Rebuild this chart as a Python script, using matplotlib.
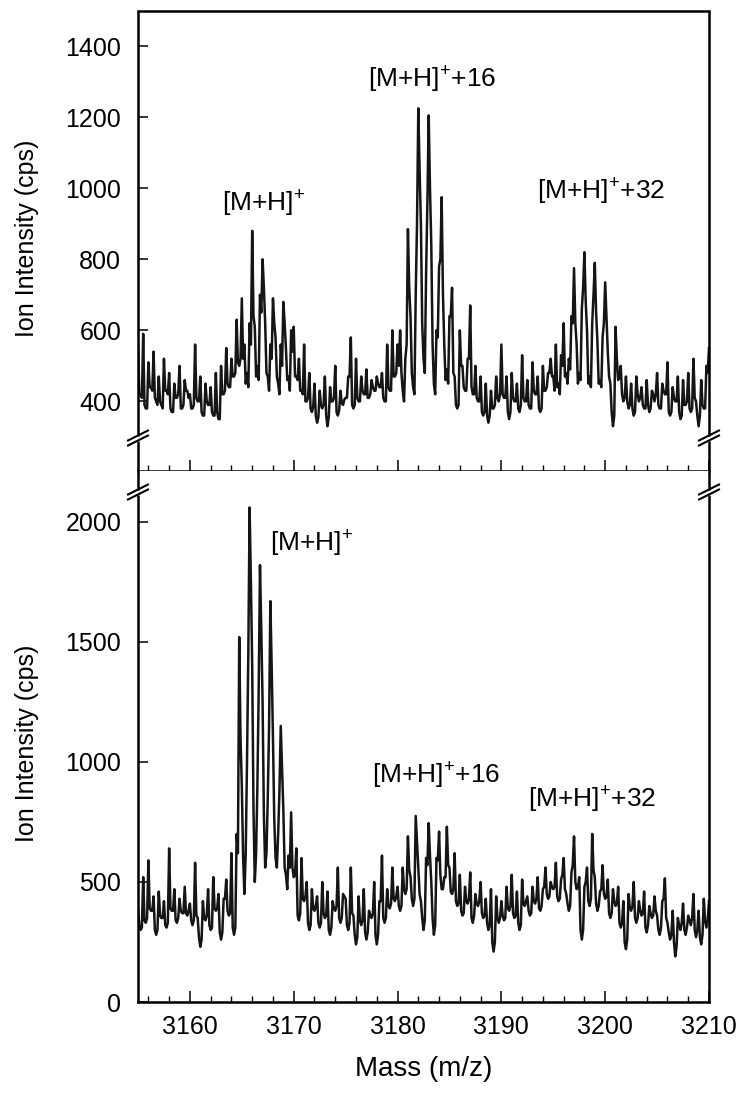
import matplotlib.pyplot as plt
import numpy as np
from matplotlib.lines import Line2D
from matplotlib.ticker import MultipleLocator

plt.rcParams['font.family'] = ['Liberation Sans', 'DejaVu Sans']
plt.rcParams['mathtext.fontset'] = 'custom'
plt.rcParams['mathtext.rm'] = 'Liberation Sans'
plt.rcParams['mathtext.it'] = 'Liberation Sans'

# spectra read every 0.25 m/z from 3155, plus the readings half way between them
mass_start = 3155.0
mass_step = 0.25

# upper spectrum (cps), 5 m/z per row
top_counts = [
    560, 420, 590, 380, 510, 440, 540, 400, 470, 390, 520, 430, 480, 370, 450, 410, 500, 380, 460, 430,
    420, 380, 560, 400, 470, 360, 450, 390, 440, 360, 480, 350, 500, 420, 550, 440, 520, 470, 630, 500,
    690, 560, 480, 620, 880, 610, 500, 700, 800, 620, 470, 560, 690, 580, 450, 560, 680, 550, 470, 600,
    610, 470, 520, 430, 560, 400, 480, 370, 450, 340, 430, 380, 470, 330, 440, 400, 500, 360, 430, 390,
    410, 470, 580, 380, 520, 400, 470, 420, 490, 410, 460, 430, 470, 440, 480, 400, 560, 430, 600, 470,
    560, 600, 430, 520, 885, 640, 440, 700, 1225, 900, 520, 760, 1205, 840, 450, 600, 780, 975, 560, 490,
    640, 720, 470, 380, 600, 500, 430, 520, 670, 420, 500, 400, 470, 360, 450, 340, 430, 380, 470, 400,
    560, 410, 470, 350, 480, 400, 450, 370, 530, 400, 460, 380, 510, 420, 470, 370, 500, 430, 480, 520,
    470, 560, 450, 530, 620, 480, 520, 640, 775, 560, 480, 660, 820, 600, 470, 620, 790, 570, 460, 580,
    735, 540, 450, 330, 610, 460, 500, 400, 470, 380, 450, 360, 470, 400, 440, 380, 460, 370, 430, 400,
    480, 380, 450, 420, 510, 360, 440, 400, 470, 350, 460, 390, 480, 370, 520, 400, 330, 460, 380, 500, 550,
]
top_between = [
    420, 410, 390, 380, 440, 430, 410, 390, 400, 380, 430, 420, 380, 370, 410, 420, 380, 390, 430, 410,
    380, 390, 410, 400, 370, 360, 400, 390, 370, 360, 370, 350, 420, 430, 450, 440, 470, 480, 510, 520,
    520, 450, 440, 560, 640, 470, 460, 650, 720, 480, 430, 520, 620, 470, 420, 500, 620, 460, 430, 540,
    470, 460, 430, 420, 400, 410, 380, 385, 360, 355, 390, 390, 360, 355, 400, 410, 370, 375, 395, 405,
    410, 470, 390, 390, 410, 400, 430, 420, 410, 420, 440, 430, 450, 440, 410, 400, 440, 430, 470, 480,
    500, 480, 400, 560, 720, 480, 420, 900, 1050, 620, 480, 960, 1000, 560, 420, 580, 800, 700, 460, 450,
    640, 480, 390, 390, 500, 440, 430, 520, 440, 420, 410, 400, 370, 370, 360, 360, 380, 390, 410, 420,
    420, 410, 370, 370, 410, 400, 380, 390, 410, 400, 390, 380, 430, 420, 380, 380, 430, 440, 480, 470,
    430, 440, 420, 500, 470, 450, 490, 620, 620, 450, 460, 720, 680, 450, 440, 700, 650, 450, 440, 620,
    640, 470, 370, 360, 520, 470, 420, 410, 400, 390, 380, 370, 420, 410, 390, 380, 390, 380, 420, 420,
    390, 380, 430, 420, 370, 370, 410, 400, 370, 360, 390, 400, 380, 380, 410, 360, 360, 390, 380, 480,
]

# lower spectrum (cps)
bottom_counts = [
    390, 300, 520, 330, 590, 380, 440, 280, 460, 350, 420, 310, 640, 380, 470, 330, 430, 370, 480, 360,
    410, 320, 580, 350, 230, 420, 340, 470, 300, 520, 380, 450, 260, 430, 510, 360, 620, 280, 700, 1520,
    900, 450, 1000, 2060, 1400, 500, 900, 1820, 1250, 560, 850, 1670, 1100, 600, 700, 1150, 800, 530, 610, 790,
    520, 640, 340, 600, 420, 500, 300, 470, 380, 440, 310, 500, 350, 460, 280, 420, 380, 560, 330, 450,
    430, 300, 560, 360, 240, 440, 320, 470, 260, 380, 350, 500, 240, 420, 610, 330, 470, 390, 560, 420,
    480, 380, 560, 450, 690, 520, 400, 775, 560, 420, 300, 600, 745, 500, 280, 600, 710, 470, 520, 730,
    560, 450, 620, 400, 530, 360, 480, 410, 540, 330, 450, 400, 500, 350, 430, 300, 470, 210, 440, 330,
    420, 340, 480, 380, 530, 350, 460, 300, 510, 400, 440, 360, 480, 410, 520, 380, 470, 560, 430, 500,
    470, 580, 420, 510, 600, 450, 380, 540, 690, 470, 520, 260, 480, 560, 400, 700, 520, 380, 460, 570,
    430, 510, 350, 470, 400, 480, 310, 420, 220, 450, 380, 500, 330, 420, 360, 460, 290, 400, 350, 440,
    360, 280, 420, 515, 330, 260, 380, 190, 350, 300, 410, 280, 360, 320, 450, 270, 380, 240, 430, 310, 420,
]
bottom_between = [
    320, 310, 340, 350, 390, 380, 300, 300, 360, 350, 320, 330, 390, 380, 340, 350, 380, 370, 370, 380,
    340, 340, 360, 270, 260, 350, 360, 320, 310, 390, 390, 290, 290, 430, 380, 370, 310, 310, 620, 1100,
    600, 620, 1450, 1750, 800, 620, 1300, 1550, 780, 620, 1150, 1400, 760, 560, 880, 980, 560, 470, 560, 560,
    530, 360, 370, 430, 440, 330, 320, 390, 400, 330, 330, 370, 360, 300, 310, 390, 400, 350, 350, 440,
    320, 330, 370, 280, 270, 340, 340, 290, 290, 360, 370, 280, 280, 420, 350, 350, 400, 410, 430, 440,
    400, 400, 470, 470, 550, 430, 430, 670, 450, 350, 340, 570, 610, 350, 320, 590, 530, 470, 520, 570,
    460, 470, 420, 410, 380, 370, 420, 430, 350, 360, 410, 420, 370, 360, 330, 320, 250, 250, 350, 350,
    360, 350, 390, 400, 370, 360, 330, 320, 410, 420, 380, 370, 420, 430, 390, 400, 480, 450, 440, 480,
    480, 440, 430, 530, 470, 410, 400, 570, 500, 480, 300, 300, 500, 420, 430, 550, 410, 400, 470, 450,
    440, 370, 370, 420, 410, 330, 330, 250, 260, 390, 400, 350, 350, 380, 370, 310, 320, 370, 360, 380,
    300, 310, 430, 350, 290, 280, 250, 230, 320, 330, 300, 310, 340, 350, 300, 300, 270, 280, 340, 340,
]

peak_labels = [r'[M+H]$^{+}$', r'[M+H]$^{+}$+16', r'[M+H]$^{+}$+32']
top_label_mass = [3163.1, 3177.2, 3193.4]
top_label_cps = [955, 1305, 990]
bottom_label_mass = [3167.7, 3177.5, 3192.6]
bottom_label_cps = [1910, 942, 842]


def merge(on_grid, between):
    y = np.empty(len(on_grid) + len(between))
    y[0::2] = on_grid
    y[1::2] = between
    x = mass_start + mass_step / 2 * np.arange(len(y))
    return x, y


top_mass, top_y = merge(top_counts, top_between)
bottom_mass, bottom_y = merge(bottom_counts, bottom_between)

W, H = 747, 1104
fig = plt.figure(figsize=(W / 100, H / 100), dpi=100)


def fx(px):
    return px / W


def fy(py):
    return 1 - py / H


left_px, right_px = 138, 709
top_px, mid_px, bot_px = 11, 471, 1002

ax_top = fig.add_axes([fx(left_px), fy(mid_px), (right_px - left_px) / W, (mid_px - top_px) / H])
ax_bot = fig.add_axes([fx(left_px), fy(bot_px), (right_px - left_px) / W, (bot_px - mid_px) / H])

ink = '#151515'
ax_top.plot(top_mass, top_y, color=ink, lw=1.8)
ax_bot.plot(bottom_mass, bottom_y, color=ink, lw=1.8)

ax_top.set_ylim(204, 1499)
ax_bot.set_ylim(0, 2212)
for ax in (ax_top, ax_bot):
    ax.set_xlim(3155, 3210)
    ax.xaxis.set_major_locator(MultipleLocator(10))
    ax.xaxis.set_minor_locator(MultipleLocator(2))
    ax.tick_params(axis='x', which='major', direction='in', length=8, width=1.1, labelsize=18, pad=9)
    ax.tick_params(axis='x', which='minor', direction='in', length=4, width=1.0)
    ax.tick_params(axis='y', which='major', direction='in', length=7, width=1.1, labelsize=18, pad=12)
    ax.spines['left'].set_visible(False)
    ax.spines['right'].set_visible(False)
    for s in ('top', 'bottom'):
        ax.spines[s].set_linewidth(1.8)

ax_top.yaxis.set_major_locator(MultipleLocator(200))
ax_top.tick_params(axis='x', labelbottom=False)
ax_bot.yaxis.set_major_locator(MultipleLocator(500))
ax_bot.spines['top'].set_visible(False)

for lab, m, c in zip(peak_labels, top_label_mass, top_label_cps):
    ax_top.text(m, c, lab, fontsize=19, ha='left', va='center')
for lab, m, c in zip(peak_labels, bottom_label_mass, bottom_label_cps):
    ax_bot.text(m, c, lab, fontsize=19, ha='left', va='center')

# side spines drawn by hand so they can carry the axis-break marks
breaks = [438, 492]
gap = 2.5
for x in (left_px, right_px):
    segs = [(top_px, breaks[0] - gap), (breaks[0] + gap, breaks[1] - gap), (breaks[1] + gap, bot_px + 1)]
    for y0, y1 in segs:
        fig.add_artist(Line2D([fx(x), fx(x)], [fy(y0), fy(y1)], color='k', lw=1.8,
                              solid_capstyle='butt'))
    for yb in breaks:
        for dy in (-gap, gap):
            fig.add_artist(Line2D([fx(x - 10), fx(x + 10)], [fy(yb + dy + 5), fy(yb + dy - 5)],
                                  color='k', lw=1.5))

fig.text(fx(27), fy(238), 'Ion Intensity (cps)', rotation=90, ha='center', va='center', fontsize=18)
fig.text(fx(27), fy(743), 'Ion Intensity (cps)', rotation=90, ha='center', va='center', fontsize=18)
fig.text(fx(424), fy(1069), 'Mass (m/z)', ha='center', va='center', fontsize=20)

fig.savefig('out.png', dpi=100)
